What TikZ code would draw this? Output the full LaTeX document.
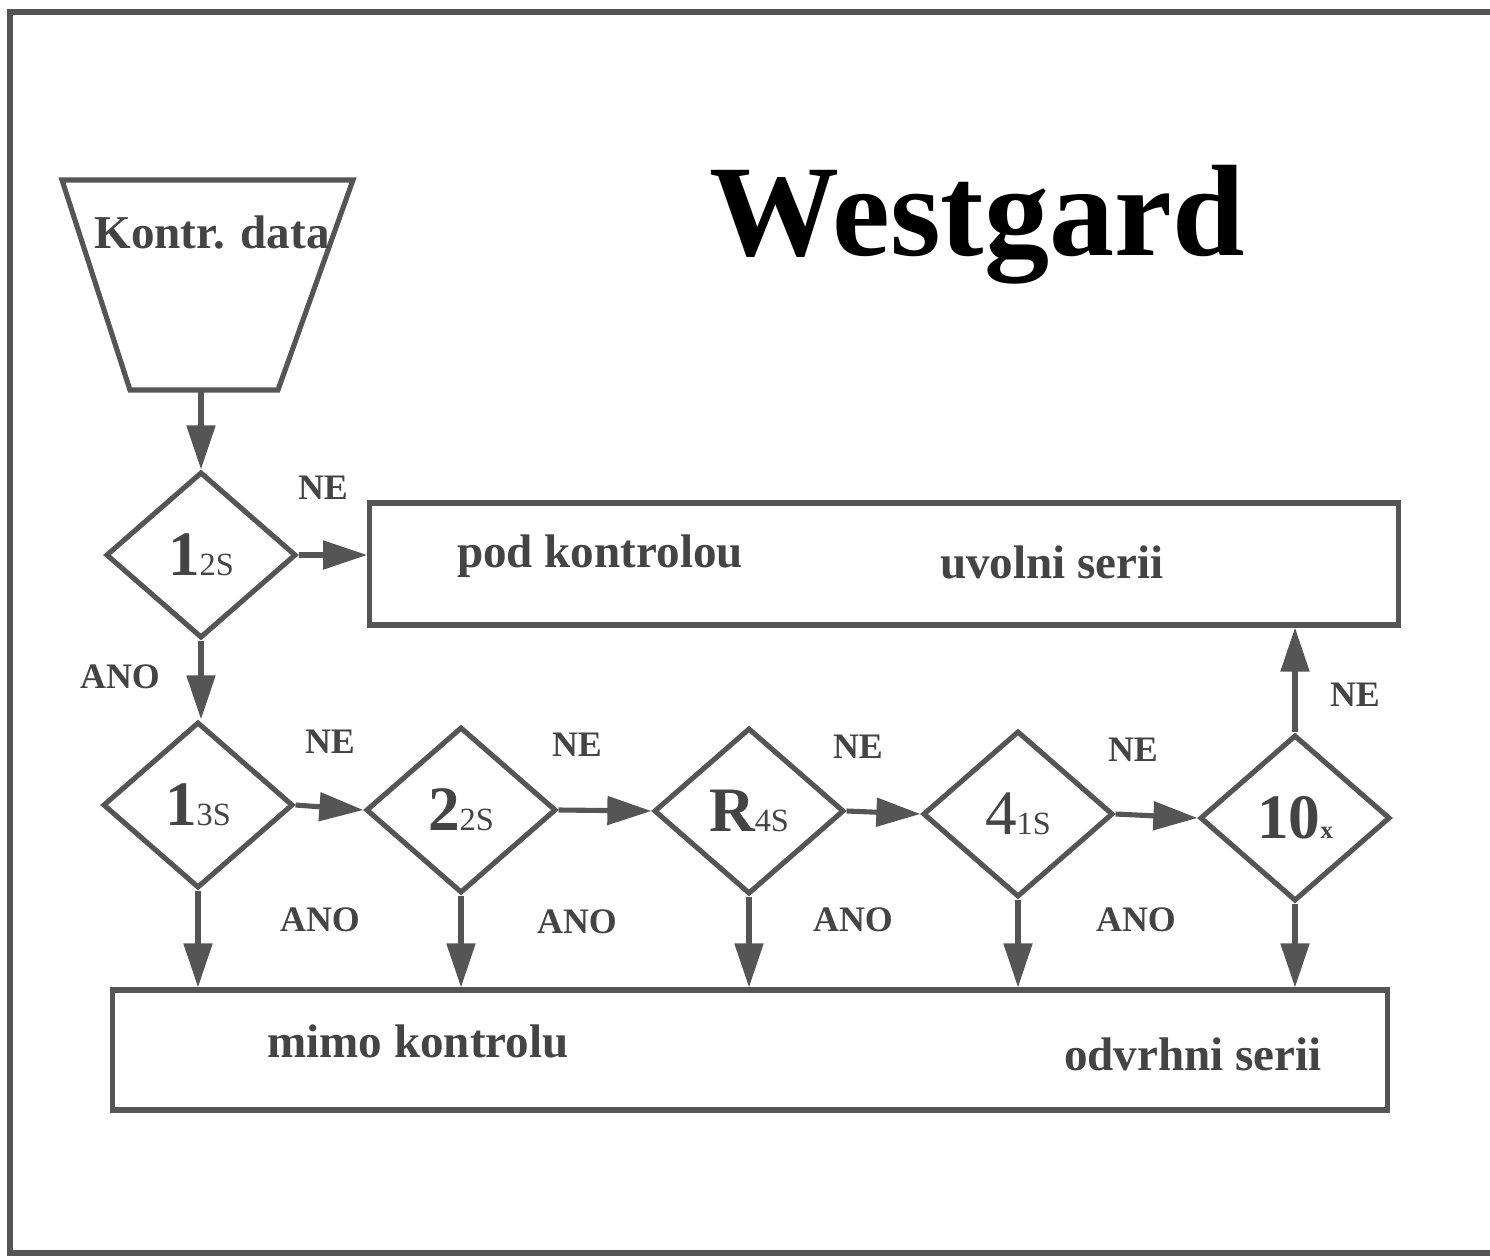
\documentclass[tikz,border=0pt]{standalone}
\usepackage{fontspec}
\setmainfont{Liberation Serif}
\usetikzlibrary{shapes.geometric,arrows.meta}
\definecolor{lineg}{RGB}{85,85,85}
\definecolor{txtg}{RGB}{68,68,68}
\newcommand{\bigd}[1]{{\fontsize{18}{20}\selectfont\bfseries #1}}
\newcommand{\smld}[1]{{\fontsize{9.2}{10}\selectfont #1}}
\begin{document}
\begin{tikzpicture}[x=0.01cm,y=-0.01cm,
  ln/.style={draw=lineg,line width=1.45pt},
  arr/.style={ln,-{Triangle[length=0.44cm,width=0.28cm]}},
  dec/.style={shape=diamond,ln,minimum width=1.9cm,minimum height=1.66cm,inner sep=0pt,text=txtg},
  box/.style={ln,rectangle,inner sep=0pt},
  lab/.style={text=txtg,font=\fontsize{10.2}{12}\selectfont\bfseries},
  boxtxt/.style={text=txtg,font=\fontsize{13.4}{16}\selectfont\bfseries,anchor=base},
]
\useasboundingbox (0,0) rectangle (1490,1260);
% outer frame
\draw[ln,line width=1.6pt] (1490,12) -- (10,12) -- (10,1253) -- (1490,1253);
% title
\node[anchor=base,font=\fontsize{37}{40}\selectfont\bfseries,inner sep=0pt] (title) at (977,255) {Westgard};
% input trapezium
\draw[ln] (62,180) -- (353,180) -- (278,390) -- (130,390) -- cycle;
\node[boxtxt,inner sep=0pt] (kd) at (212,248) {Kontr. data};
\coordinate (trapb) at (201,390);
% boxes
\node[box,minimum width=10.28cm,minimum height=1.22cm] (top) at (884,564) {};
\node[box,minimum width=12.75cm,minimum height=1.2cm] (bot) at (750,1050) {};
\node[boxtxt] (t1) at (600,567) {pod kontrolou};
\node[boxtxt] (t2) at (1052,578) {uvolni serii};
\node[boxtxt] (t3) at (418,1057) {mimo kontrolu};
\node[boxtxt] (t4) at (1193,1070) {odvrhni serii};
% decisions
\node[dec] (d1) at (201,555) {\bigd{1}\smld{2S}};
\node[dec] (d13) at (198,805) {\bigd{1}\smld{3S}};
\node[dec] (d22) at (461,810) {\bigd{2}\smld{2S}};
\node[dec] (r4s) at (749,811) {\bigd{R}\smld{4S}};
\node[dec] (d41) at (1018,814) {{\fontsize{18}{20}\selectfont 4}\smld{1S}};
\node[dec] (d10) at (1295,818) {\bigd{10}{\fontsize{7}{8}\selectfont\bfseries x}};
% connectors
\draw[arr] (trapb) -- (d1.north);
\draw[arr] (d1.east) -- (d1.east -| top.west);
\draw[arr] (d1.south) -- (d1.south |- d13.north);
\draw[arr] (d13.east) -- (d22.west);
\draw[arr] (d22.east) -- (r4s.west);
\draw[arr] (r4s.east) -- (d41.west);
\draw[arr] (d41.east) -- (d10.west);
\foreach \n in {d13,d22,r4s,d41,d10} \draw[arr] (\n.south) -- (\n.south |- bot.north);
\draw[arr] (d10.north) -- (d10.north |- top.south);
% labels
\node[lab] (ne1) at (323,488) {NE};
\node[lab] (ano1) at (120,677) {ANO};
\node[lab] (ne2) at (330,742) {NE};
\node[lab] (ne3) at (577,745) {NE};
\node[lab] (ne4) at (858,747) {NE};
\node[lab] (ne5) at (1133,750) {NE};
\node[lab] (ne6) at (1355,695) {NE};
\node[lab] (ano2) at (320,920) {ANO};
\node[lab] (ano3) at (577,922) {ANO};
\node[lab] (ano4) at (853,920) {ANO};
\node[lab] (ano5) at (1136,920) {ANO};
\end{tikzpicture}
\end{document}
